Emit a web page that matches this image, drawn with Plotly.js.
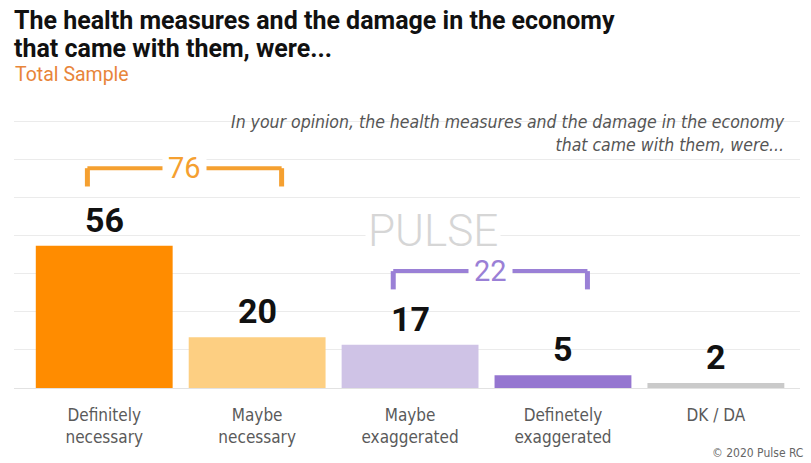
<!DOCTYPE html>
<html>
<head>
<meta charset="utf-8">
<script src="https://cdn.plot.ly/plotly-3.0.1.min.js"></script>
<style>html,body{margin:0;padding:0;background:#fff;}#chart{width:811px;height:463px;}</style>
</head>
<body>
<div id="chart"></div>
<script>
const categories = ['Definitely<br>necessary', 'Maybe<br>necessary', 'Maybe<br>exaggerated', 'Definetely<br>exaggerated', 'DK / DA'];
const values = [56, 20, 17, 5, 2];
const barColors = ['#FF8C00', '#FDCF82', '#CFC3E6', '#9576D0', '#CACACA'];
const groupLabels = ['76', '22'];
const groupStart = [0, 2];
const groupEnd = [1, 3];
const groupColors = ['#F5A030', '#9A80D6'];
const groupTop = [86.5, 46];
const titleLines = ['The health measures and the damage in the economy', 'that came with them, were...'];

const condensed = '"DejaVu Sans Condensed", "Roboto", sans-serif';

// plot area in pixels (used to convert fixed page positions to paper coords)
const M = {l: 14, r: 11, t: 110, b: 75};
const W = 811, H = 463;
const PW = W - M.l - M.r, PH = H - M.t - M.b;
const px = x => (x - M.l) / PW;
const py = y => (H - M.b - y) / PH;

const shapes = [];
const annotations = [];

// value labels
values.forEach((v, i) => {
  annotations.push({
    x: i, y: v, xref: 'x', yref: 'y', text: String(v), showarrow: false,
    yanchor: 'bottom', yshift: 4,
    font: {family: 'Roboto, sans-serif', size: 34, color: '#111', weight: 700}
  });
});

// brackets
groupLabels.forEach((lab, k) => {
  const x0 = groupStart[k] - 0.11, x1 = groupEnd[k] + 0.16;
  const yt = groupTop[k], yb = yt - 7.2;
  const col = groupColors[k];
  shapes.push({type: 'line', xref: 'x', yref: 'y', x0: x0, x1: x0, y0: yb, y1: yt, line: {color: col, width: 5}});
  shapes.push({type: 'line', xref: 'x', yref: 'y', x0: x1, x1: x1, y0: yb, y1: yt, line: {color: col, width: 5}});
  shapes.push({type: 'line', xref: 'x', yref: 'y', x0: x0, x1: x1, y0: yt, y1: yt, line: {color: col, width: 4}});
  annotations.push({
    x: (x0 + x1) / 2, y: yt, xref: 'x', yref: 'y', text: lab, showarrow: false,
    bgcolor: '#ffffff', borderpad: 5,
    font: {family: 'Roboto, sans-serif', size: 29, color: col}
  });
});

// watermark
annotations.push({
  x: px(433), y: py(231), xref: 'paper', yref: 'paper', text: 'PULSE', showarrow: false,
  bgcolor: '#ffffff', borderpad: 2,
  font: {family: 'Roboto, sans-serif', size: 44, color: '#D6D6D6', weight: 300}
});

// title, subtitle, notes
annotations.push(
  {x: px(13), y: py(20), xref: 'paper', yref: 'paper', xanchor: 'left', yanchor: 'middle', align: 'left', showarrow: false,
   text: '<b>' + titleLines[0] + '</b>', borderpad: 0,
   font: {family: 'Roboto, sans-serif', size: 25, color: '#111'}},
  {x: px(13), y: py(48), xref: 'paper', yref: 'paper', xanchor: 'left', yanchor: 'middle', align: 'left', showarrow: false,
   text: '<b>' + titleLines[1] + '</b>', borderpad: 0,
   font: {family: 'Roboto, sans-serif', size: 25, color: '#111'}},
  {x: px(13), y: py(75), xref: 'paper', yref: 'paper', xanchor: 'left', yanchor: 'middle', showarrow: false,
   text: 'Total Sample', font: {family: 'Roboto, sans-serif', size: 19.5, color: '#E8853A'}},
  {x: px(787), y: py(133), xref: 'paper', yref: 'paper', xanchor: 'right', yanchor: 'middle', align: 'right', showarrow: false,
   text: '<i>In your opinion, the health measures and the damage in the economy<br>that came with them, were...</i>',
   font: {family: condensed, size: 17.5, color: '#555'}},
  {x: px(805), y: py(453), xref: 'paper', yref: 'paper', xanchor: 'right', yanchor: 'middle', showarrow: false,
   text: '© 2020 Pulse RC', font: {family: condensed, size: 12, color: '#666'}}
);

const layout = {
  width: W, height: H,
  paper_bgcolor: '#ffffff', plot_bgcolor: '#ffffff',
  margin: M,
  showlegend: false,
  bargap: 0.105,
  xaxis: {
    type: 'category', range: [-0.59, 4.55], showgrid: false, zeroline: false, showline: false,
    ticks: '', ticklabelstandoff: 15,
    tickfont: {family: condensed, size: 17, color: '#5a5a5a'}
  },
  yaxis: {
    range: [0, 109.4], dtick: 15, showgrid: true, gridcolor: '#EBEBEB', gridwidth: 1,
    zeroline: true, zerolinecolor: '#E2E2E2', zerolinewidth: 1,
    showticklabels: false, ticks: '', showline: false
  },
  shapes: shapes,
  annotations: annotations
};

const trace = {
  type: 'bar', x: categories, y: values,
  marker: {color: barColors, line: {width: 0}},
  hoverinfo: 'none'
};

Plotly.newPlot('chart', [trace], layout, {displayModeBar: false, staticPlot: true});
</script>
</body>
</html>
